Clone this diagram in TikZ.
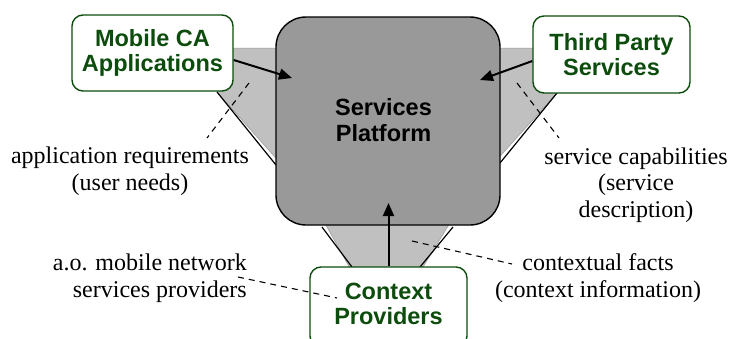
\documentclass[tikz,border=0pt]{standalone}
\usepackage{fontspec}
\setmainfont{Liberation Serif}
\newfontfamily\boxfont{Liberation Sans}
\usetikzlibrary{arrows.meta}
\definecolor{dgreen}{RGB}{12,76,12}
\definecolor{platgray}{RGB}{153,153,153}
\definecolor{wedgegray}{RGB}{192,192,192}
\tikzset{
  actor/.style={draw=dgreen, fill=white, line width=1.4pt, rounded corners=11pt,
    text=dgreen, align=center, inner sep=0pt,
    font=\boxfont\bfseries\fontsize{23.5}{25.5}\selectfont},
  platform/.style={draw=black, fill=platgray, line width=1.4pt, rounded corners=30pt,
    align=center, inner sep=0pt,
    font=\boxfont\bfseries\fontsize{23.5}{26}\selectfont},
  wedge/.style={fill=wedgegray, draw=gray!80, line width=0.5pt},
  edgeline/.style={draw=black, line width=1.2pt},
  flow/.style={draw=black, line width=2pt, -{Triangle[length=13pt,width=11pt]}},
  note/.style={align=center, inner sep=0pt, font=\fontsize{24}{26.5}\selectfont},
  leader/.style={draw=black, line width=1.1pt, dash pattern=on 6pt off 5pt}
}
\begin{document}
\begin{tikzpicture}[x=1pt,y=-1pt]
\useasboundingbox (0,0) rectangle (731,338);
% wedges
\path[wedge] (226,48) -- (282,48) -- (282,165) -- (217,92) -- cycle;
\path[wedge] (540,48) -- (494,48) -- (494,163) -- (557,93) -- cycle;
\path[wedge] (322,218) -- (453,218) -- (420,272) -- (352,272) -- cycle;
\draw[edgeline] (217,92) -- (276,165);
\draw[edgeline] (557,93) -- (500,163);
\draw[edgeline] (322,227) -- (352,267);
\draw[edgeline] (453,227) -- (420,267);
% platform
\node[platform, minimum width=224pt, minimum height=208pt] (plat) at (388,121) {};
\node[font=\boxfont\bfseries\fontsize{23.5}{26}\selectfont, align=center, inner sep=0pt] (platlbl) at (383.5,120.5) {Services\\Platform};
% actors
\node[actor, minimum width=161pt, minimum height=76pt] (mob) at (152.5,53) {Mobile CA\\Applications};
\node[actor, minimum width=157pt, minimum height=77pt] (tp) at (611.5,54.5) {Third Party\\Services};
\node[actor, minimum width=157pt, minimum height=80pt] (cp) at (388.5,307)
  {\raisebox{5pt}{\begin{tabular}{@{}c@{}}Context\\Providers\end{tabular}}};
% flows
\coordinate (pA) at (292,78);
\coordinate (pB) at (480,80);
\coordinate (pC) at (388.5,203);
\draw[flow] ([yshift=-7pt]mob.east) -- (pA);
\draw[flow] ([yshift=-6.5pt]tp.west) -- (pB);
\draw[flow] (cp.north) -- (pC);
% notes
\node[note] (n1) at (130,171) {application requirements\\(user needs)};
\node[note] (n2) at (636,185) {service capabilities\\(service\\description)};
\node[note, align=right, anchor=east] (n3) at (247,278) {a.o. mobile network\\services providers};
\node[note] (n4) at (598,278) {contextual facts\\(context information)};
% leaders
\coordinate (l1a) at (249,83); \coordinate (l1b) at (207,138);
\coordinate (l2a) at (517,83); \coordinate (l2b) at (559,138);
\coordinate (l3a) at (238,277); \coordinate (l3b) at (337,298);
\coordinate (l4a) at (412,241); \coordinate (l4b) at (512,264);
\draw[leader] (l1a) -- (l1b);
\draw[leader] (l2a) -- (l2b);
\draw[leader] (l3a) -- (l3b);
\draw[leader] (l4a) -- (l4b);
\end{tikzpicture}
\end{document}
